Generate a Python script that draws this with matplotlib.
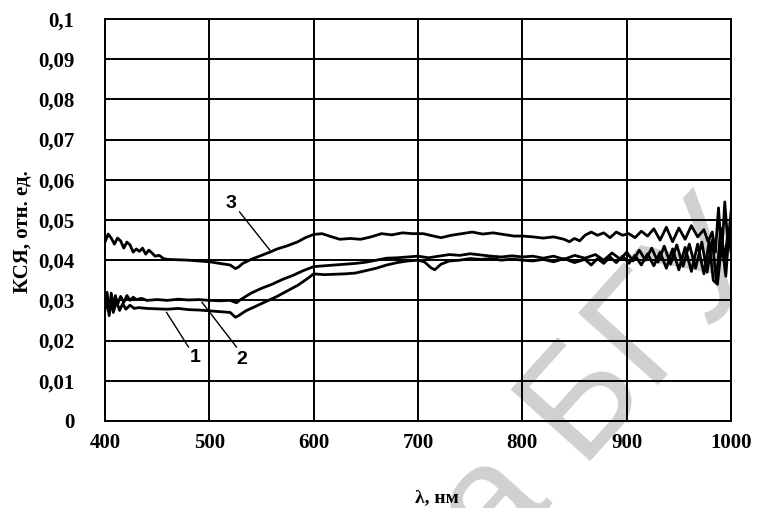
import numpy as np
import matplotlib
matplotlib.use('Agg')
import matplotlib.pyplot as plt

# ── data ─────────────────────────────────────────────────────────────────────
wl3 = [400, 403, 406, 409, 412, 415, 418, 421, 424, 427, 430, 433, 436, 439, 442,
       445, 448, 452, 456, 460, 470, 480, 490, 500, 505, 510, 515, 520, 525, 528,
       532, 540, 550, 558, 565, 575, 585, 592, 600, 608, 615, 625, 635, 645, 655,
       665, 675, 685, 695, 705, 715, 722, 732, 742, 752, 762, 772, 782, 792, 800,
       810, 820, 830, 840, 845, 850, 855, 860, 866, 872, 878, 884, 890, 896, 902,
       908, 914, 920, 926, 932, 938, 944, 950, 956, 962, 968, 974, 978, 982, 985,
       988, 991, 994, 997, 1000]
k3 = [0.0445, 0.0465, 0.0455, 0.0440, 0.0455, 0.0448, 0.0430, 0.0445, 0.0438, 0.0420,
      0.0428, 0.0422, 0.0430, 0.0415, 0.0425, 0.0418, 0.0410, 0.0412, 0.0404, 0.0402,
      0.0401, 0.0400, 0.0398, 0.0396, 0.0394, 0.0392, 0.0390, 0.0388, 0.0379, 0.0383,
      0.0392, 0.0402, 0.0412, 0.0420, 0.0428, 0.0436, 0.0446, 0.0456, 0.0464, 0.0466,
      0.0460, 0.0452, 0.0454, 0.0452, 0.0458, 0.0466, 0.0463, 0.0468, 0.0466, 0.0466,
      0.0460, 0.0456, 0.0462, 0.0466, 0.0470, 0.0465, 0.0468, 0.0464, 0.0460, 0.0460,
      0.0458, 0.0455, 0.0458, 0.0452, 0.0446, 0.0454, 0.0448, 0.0462, 0.0470, 0.0462,
      0.0468, 0.0456, 0.0470, 0.0462, 0.0466, 0.0456, 0.0472, 0.0460, 0.0478, 0.0450,
      0.0482, 0.0446, 0.0480, 0.0452, 0.0486, 0.0458, 0.0476, 0.0446, 0.0470, 0.0420,
      0.0530, 0.0410, 0.0545, 0.0440, 0.0520]

wl2 = [400, 402, 404, 406, 408, 410, 412, 415, 418, 421, 424, 427, 430, 435, 440,
       450, 460, 470, 480, 490, 500, 510, 520, 526, 530, 540, 550, 560, 570, 580,
       590, 600, 610, 620, 630, 640, 650, 660, 670, 680, 690, 700, 710, 720, 730,
       740, 750, 760, 770, 780, 790, 800, 810, 820, 830, 840, 850, 860, 870, 878,
       886, 894, 900, 906, 912, 918, 924, 930, 936, 942, 948, 954, 960, 966, 972,
       977, 982, 986, 990, 994, 997, 1000]
k2 = [0.0300, 0.0320, 0.0270, 0.0318, 0.0285, 0.0312, 0.0290, 0.0310, 0.0295, 0.0312,
      0.0300, 0.0308, 0.0302, 0.0305, 0.0300, 0.0302, 0.0300, 0.0303, 0.0301, 0.0302,
      0.0300, 0.0299, 0.0300, 0.0294, 0.0302, 0.0318, 0.0330, 0.0340, 0.0352, 0.0362,
      0.0374, 0.0384, 0.0386, 0.0388, 0.0390, 0.0392, 0.0395, 0.0400, 0.0405, 0.0406,
      0.0408, 0.0410, 0.0406, 0.0410, 0.0414, 0.0412, 0.0416, 0.0413, 0.0410, 0.0408,
      0.0411, 0.0408, 0.0410, 0.0405, 0.0410, 0.0402, 0.0412, 0.0405, 0.0414, 0.0400,
      0.0418, 0.0402, 0.0420, 0.0398, 0.0425, 0.0400, 0.0430, 0.0395, 0.0435, 0.0390,
      0.0438, 0.0385, 0.0440, 0.0380, 0.0445, 0.0370, 0.0450, 0.0345, 0.0480, 0.0400,
      0.0470, 0.0440]

wl1 = [400, 402, 404, 406, 408, 411, 414, 417, 420, 424, 428, 432, 440, 450, 460,
       470, 480, 490, 500, 510, 520, 525, 528, 535, 545, 555, 565, 575, 585, 595,
       600, 610, 620, 630, 640, 650, 660, 670, 680, 690, 700, 706, 712, 716, 722,
       730, 740, 750, 760, 770, 780, 790, 800, 810, 820, 830, 840, 850, 860, 866,
       872, 878, 884, 890, 896, 902, 908, 914, 920, 926, 932, 938, 944, 950, 956,
       962, 968, 974, 979, 983, 987, 991, 995, 998, 1000]
k1 = [0.0275, 0.0305, 0.0262, 0.0300, 0.0270, 0.0298, 0.0275, 0.0292, 0.0278, 0.0288,
      0.0280, 0.0282, 0.0280, 0.0279, 0.0278, 0.0280, 0.0277, 0.0276, 0.0274, 0.0272,
      0.0270, 0.0258, 0.0262, 0.0274, 0.0286, 0.0298, 0.0310, 0.0324, 0.0338, 0.0356,
      0.0366, 0.0364, 0.0365, 0.0366, 0.0368, 0.0374, 0.0380, 0.0388, 0.0394, 0.0398,
      0.0400, 0.0396, 0.0382, 0.0376, 0.0390, 0.0398, 0.0400, 0.0404, 0.0402, 0.0404,
      0.0400, 0.0403, 0.0400, 0.0398, 0.0402, 0.0396, 0.0404, 0.0394, 0.0402, 0.0388,
      0.0404, 0.0392, 0.0408, 0.0394, 0.0410, 0.0392, 0.0412, 0.0388, 0.0416, 0.0386,
      0.0420, 0.0380, 0.0428, 0.0376, 0.0432, 0.0372, 0.0440, 0.0366, 0.0445, 0.0350,
      0.0340, 0.0440, 0.0360, 0.0470, 0.0420]

x_ticks = [400, 500, 600, 700, 800, 900, 1000]
y_ticks = [0.0, 0.01, 0.02, 0.03, 0.04, 0.05, 0.06, 0.07, 0.08, 0.09, 0.1]
y_labels = ['0', '0,01', '0,02', '0,03', '0,04', '0,05', '0,06', '0,07', '0,08', '0,09', '0,1']

# curve number, text position, leader line start and end
curve_tags = [('1', (486, 0.0157), (480, 0.0184), (459, 0.0270)),
              ('2', (531, 0.0152), (526, 0.0184), (493, 0.0295)),
              ('3', (521, 0.0542), (529, 0.0520), (558, 0.0425))]

SERIF = 'Liberation Serif'
SANS = 'Liberation Sans'

# ── Plot ──────────────────────────────────────────────────────────────────────
fig = plt.figure(figsize=(7.57, 5.08), dpi=100)
ax = fig.add_axes([0.1387, 0.1713, 0.8270, 0.7913])
ax.patch.set_alpha(0)
ax.set_zorder(2)

# faint library watermark behind the chart
fig.text(0.655, -0.115, 'а БГУ', rotation=48, rotation_mode='anchor',
         ha='left', va='baseline', fontsize=112, family=SANS,
         color='#d0d0d0', zorder=0)

for wl, k in ((wl1, k1), (wl2, k2), (wl3, k3)):
    ax.plot(wl, k, color='black', linewidth=2.0, zorder=3)

for tag, txt_pos, start, end in curve_tags:
    ax.plot([start[0], end[0]], [start[1], end[1]], color='black', linewidth=1.0, zorder=3)
    ax.text(txt_pos[0], txt_pos[1], tag, ha='center', va='center',
            fontsize=14, fontweight='bold', family=SANS, zorder=4)

ax.set_xlim(400, 1000)
ax.set_ylim(0, 0.1)
ax.set_xticks(x_ticks)
ax.set_yticks(y_ticks)
ax.set_yticklabels(y_labels)
ax.grid(True, color='black', linewidth=1.4)
ax.tick_params(length=0, labelsize=15)
ax.tick_params(axis='y', pad=22)
ax.tick_params(axis='x', pad=9)
for lab in ax.get_xticklabels() + ax.get_yticklabels():
    lab.set_family(SERIF)
    lab.set_fontweight('bold')
for sp in ax.spines.values():
    sp.set_color('black')
    sp.set_linewidth(1.4)

fig.text(0.030, 0.545, 'КСЯ, отн. ед.', rotation=90, ha='center', va='center',
         fontsize=15, fontweight='bold', family=SERIF)
fig.text(0.577, 0.02, 'λ, нм', ha='center', va='center',
         fontsize=14, fontweight='bold', family=SERIF)

fig.savefig('out.png', dpi=100)
